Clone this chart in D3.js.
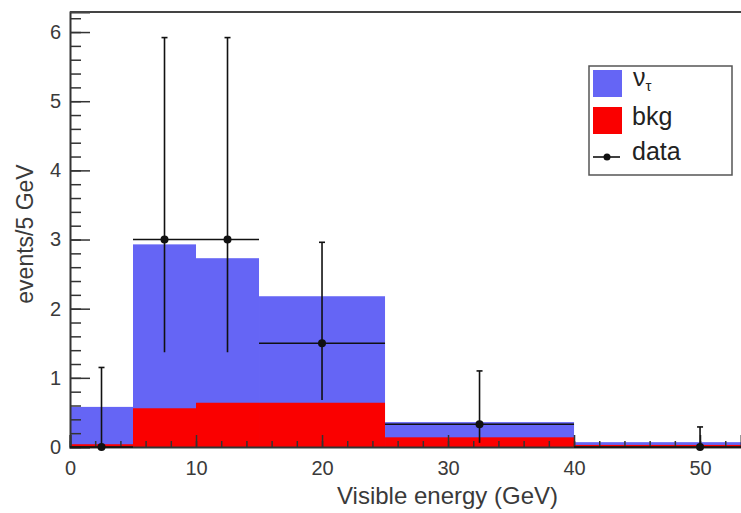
<!DOCTYPE html>
<html>
<head>
<meta charset="utf-8">
<script src="https://cdn.jsdelivr.net/npm/d3@7"></script>
<style>
  body { margin: 0; background: #fff; }
  svg { display: block; font-family: "Liberation Sans", Arial, Helvetica, sans-serif; }
</style>
</head>
<body>
<svg id="chart" width="741" height="513"></svg>
<script>
// histogram bins (GeV)
var binEdges = [0, 5, 10, 15, 25, 40, 60];
// events / 5 GeV
var bkg    = [0.04, 0.56, 0.64, 0.64, 0.14, 0.03];
var nutau  = [0.54, 2.37, 2.09, 1.54, 0.22, 0.04];  // stacked on top of bkg

// data points with x range and error bounds
var dataX    = [2.5, 7.5, 12.5, 20, 32.5, 50];
var dataXLow = [0, 5, 10, 15, 25, 40];
var dataXHigh= [5, 10, 15, 25, 40, 60];
var dataY    = [0, 3, 3, 1.5, 0.33, 0];
var dataYLow = [0, 1.37, 1.37, 0.68, 0.06, 0];
var dataYHigh= [1.15, 5.92, 5.92, 2.96, 1.1, 0.29];

var xTicks = [0, 10, 20, 30, 40, 50];
var yTicks = [0, 1, 2, 3, 4, 5, 6];

var svg = d3.select("#chart");

var x = d3.scaleLinear().domain([0, 53.25]).range([70, 741]);
var y = d3.scaleLinear().domain([0, 6.29]).range([447, 12]);

var bins = d3.range(bkg.length).map(function(i) {
  return { x0: binEdges[i], x1: binEdges[i + 1], b: bkg[i], s: nutau[i] };
});

// nu_tau (drawn to the total height) then bkg over it
svg.append("g").selectAll("rect")
  .data(bins).enter().append("rect")
    .attr("x", function(d) { return x(d.x0); })
    .attr("width", function(d) { return x(d.x1) - x(d.x0); })
    .attr("y", function(d) { return y(d.b + d.s); })
    .attr("height", function(d) { return y(0) - y(d.b + d.s); })
    .attr("fill", "#6565f5");

svg.append("g").selectAll("rect")
  .data(bins).enter().append("rect")
    .attr("x", function(d) { return x(d.x0); })
    .attr("width", function(d) { return x(d.x1) - x(d.x0); })
    .attr("y", function(d) { return y(d.b); })
    .attr("height", function(d) { return y(0) - y(d.b); })
    .attr("fill", "#fa0000");

// axes, ticks pointing inward
var yMinor = svg.append("g")
    .attr("transform", "translate(70,0)")
    .call(d3.axisLeft(y).tickValues(d3.range(0, 6.3, 0.2)).tickSize(-11).tickFormat(""));
yMinor.select(".domain").remove();

var yAxis = svg.append("g")
    .attr("transform", "translate(70,0)")
    .call(d3.axisLeft(y).tickValues(yTicks).tickSize(-20).tickPadding(9).tickFormat(d3.format("d")));

var xMinor = svg.append("g")
    .attr("transform", "translate(0,447)")
    .call(d3.axisBottom(x).tickValues(d3.range(0, 54, 2)).tickSize(-6).tickFormat(""));
xMinor.select(".domain").remove();

var xAxis = svg.append("g")
    .attr("transform", "translate(0,447)")
    .call(d3.axisBottom(x).tickValues(xTicks).tickSize(-12).tickPadding(14).tickFormat(d3.format("d")));

svg.selectAll(".tick line").attr("stroke", "#333").attr("stroke-width", 1.5);
svg.selectAll(".domain").attr("stroke", "#333").attr("stroke-width", 2);
svg.selectAll(".tick text").attr("font-size", 20).attr("fill", "#3a3a3a")
    .attr("font-family", "Liberation Sans, Arial, sans-serif");

// top frame line
svg.append("line")
    .attr("x1", x(0)).attr("x2", 741)
    .attr("y1", y(6.29)).attr("y2", y(6.29))
    .attr("stroke", "#444").attr("stroke-width", 2);

// data with error bars
var pts = d3.range(dataX.length).map(function(i) {
  return { x: dataX[i], xl: dataXLow[i], xh: dataXHigh[i], y: dataY[i], yl: dataYLow[i], yh: dataYHigh[i] };
});

var dg = svg.append("g").attr("stroke", "#111").attr("stroke-width", 1.6);
dg.selectAll(".xerr").data(pts).enter().append("line")
    .attr("x1", function(d) { return x(d.xl); })
    .attr("x2", function(d) { return x(d.xh); })
    .attr("y1", function(d) { return y(d.y); })
    .attr("y2", function(d) { return y(d.y); });
dg.selectAll(".yerr").data(pts).enter().append("line")
    .attr("x1", function(d) { return x(d.x); })
    .attr("x2", function(d) { return x(d.x); })
    .attr("y1", function(d) { return y(d.yl); })
    .attr("y2", function(d) { return y(d.yh); });
dg.selectAll(".cap").data(pts).enter().append("line")
    .attr("x1", function(d) { return x(d.x) - 3; })
    .attr("x2", function(d) { return x(d.x) + 3; })
    .attr("y1", function(d) { return y(d.yh); })
    .attr("y2", function(d) { return y(d.yh); });
svg.append("g").selectAll("circle").data(pts).enter().append("circle")
    .attr("cx", function(d) { return x(d.x); })
    .attr("cy", function(d) { return y(d.y); })
    .attr("r", 4)
    .attr("fill", "#111");

// axis titles
svg.append("text")
    .attr("x", 558).attr("y", 504)
    .attr("text-anchor", "end")
    .attr("font-size", 24).attr("fill", "#3a3a3a")
    .text("Visible energy (GeV)");

svg.append("text")
    .attr("transform", "translate(33,234) rotate(-90)")
    .attr("text-anchor", "middle")
    .attr("font-size", 23).attr("fill", "#3a3a3a")
    .text("events/5 GeV");

// legend
var lg = svg.append("g").attr("transform", "translate(589,66)");
lg.append("rect")
    .attr("width", 143).attr("height", 109)
    .attr("fill", "#fff").attr("stroke", "#555").attr("stroke-width", 1.5);
lg.append("rect").attr("x", 4).attr("y", 4).attr("width", 29).attr("height", 27).attr("fill", "#6565f5");
lg.append("rect").attr("x", 4).attr("y", 41).attr("width", 29).attr("height", 27).attr("fill", "#fa0000");
lg.append("line").attr("x1", 4).attr("x2", 31).attr("y1", 91).attr("y2", 91)
    .attr("stroke", "#111").attr("stroke-width", 1.6);
lg.append("circle").attr("cx", 18).attr("cy", 91).attr("r", 3.5).attr("fill", "#111");

var nu = lg.append("text").attr("x", 44).attr("y", 20).attr("font-size", 25).attr("fill", "#222");
nu.append("tspan").text("ν");
nu.append("tspan").attr("font-size", 15).attr("dy", 5).text("τ");
lg.append("text").attr("x", 43).attr("y", 59).attr("font-size", 25).attr("fill", "#222").text("bkg");
lg.append("text").attr("x", 43).attr("y", 94).attr("font-size", 25).attr("fill", "#222").text("data");
</script>
</body>
</html>
